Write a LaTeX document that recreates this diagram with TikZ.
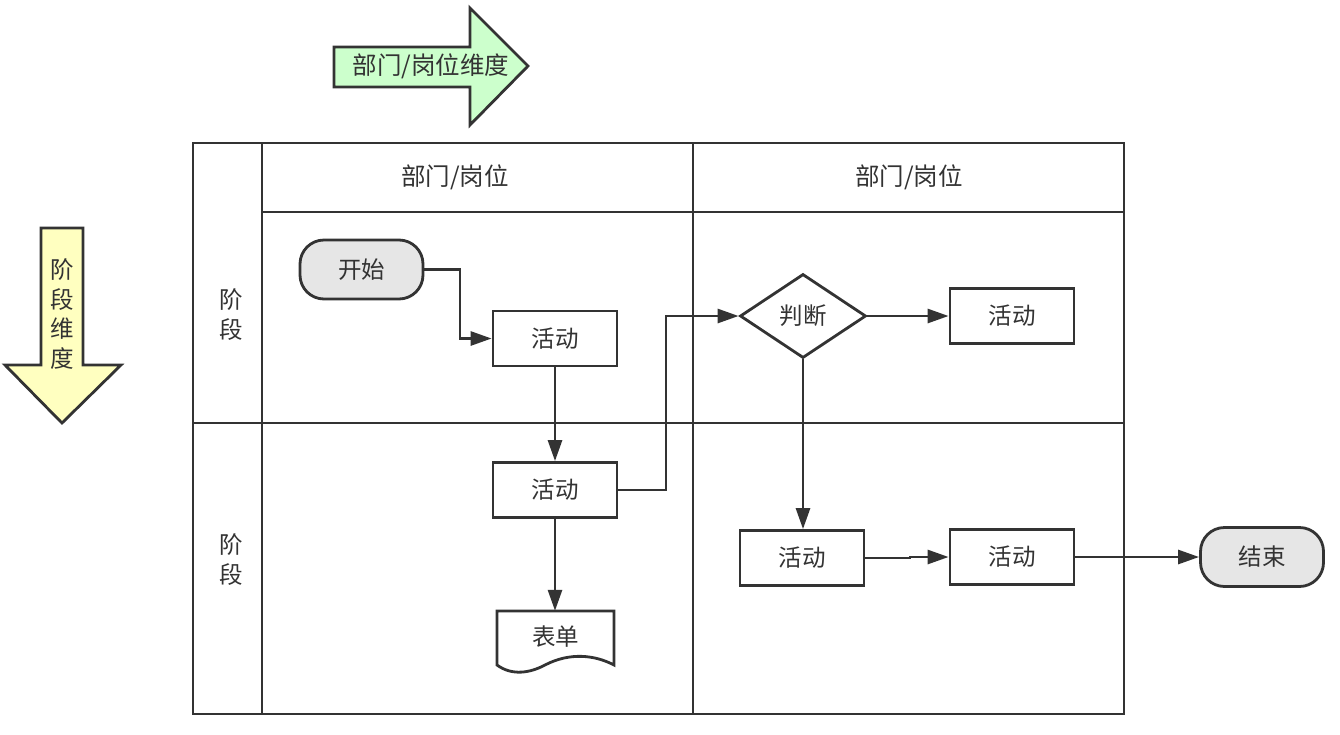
\documentclass[tikz,border=0pt]{standalone}
\usepackage{fontspec}
\setmainfont{Noto Sans CJK SC}
\usetikzlibrary{arrows.meta,shapes.geometric}
\definecolor{ln}{HTML}{333333}
\definecolor{txt}{HTML}{333333}
\definecolor{grn}{HTML}{CCFFCC}
\definecolor{ylw}{HTML}{FFFFC0}
\definecolor{gry}{HTML}{E6E6E6}
\tikzset{
  every node/.style={text=txt,font=\fontsize{23.5}{30}\selectfont},
  hdr/.style={font=\fontsize{24.5}{30}\selectfont},
  frame/.style={draw=ln,line width=2.8pt},
  actbox/.style={draw=ln,line width=2.8pt,fill=white,minimum width=124pt,minimum height=55pt,inner sep=0pt},
  termbox/.style={draw=ln,line width=2.8pt,fill=gry,rounded corners=24pt,minimum width=123pt,minimum height=59pt,inner sep=0pt},
  decbox/.style={draw=ln,line width=2.8pt,fill=white,diamond,aspect=1.5,minimum width=126pt,minimum height=84pt,inner sep=0pt},
  conn/.style={draw=ln,line width=2.8pt,-{Triangle[length=21pt,width=14pt]}},
  bigarrow/.style={draw=ln,line width=2.8pt,line join=miter}
}
\begin{document}
\begin{tikzpicture}[x=1pt,y=-1pt]
\useasboundingbox (0,0) rectangle (1340,734);
\fill[white] (0,0) rectangle (1340,734);
% dimension arrows
\draw[bigarrow,fill=grn] (334,47) -- (470,47) -- (470,8) -- (528,66) -- (470,125) -- (470,87) -- (334,87) -- cycle;
\node[hdr] (dimh) at (431,66) {部门/岗位维度};
\draw[bigarrow,fill=ylw] (41,228) -- (83,228) -- (83,365) -- (121,365) -- (62,423) -- (5,365) -- (41,365) -- cycle;
\node[align=center,font=\fontsize{23.5}{29.5}\selectfont] (dimv) at (62,314) {阶\\段\\维\\度};
% frame
\draw[frame] (193,143) rectangle (1124,714);
\draw[frame] (262,143) -- (262,714);
\draw[frame] (693,143) -- (693,714);
\draw[frame] (262,212) -- (1124,212);
\draw[frame] (193,423) -- (1124,423);
\node[hdr] (h1) at (455,177) {部门/岗位};
\node[hdr] (h2) at (909,177) {部门/岗位};
\node[align=center] (s1) at (231,315) {阶\\段};
\node[align=center] (s2) at (231,560) {阶\\段};
% nodes
\node[termbox] (start) at (361.5,269.5) {开始};
\node[actbox] (a1) at (555,338.5) {活动};
\node[actbox] (a2) at (555,490) {活动};
\node[minimum width=117pt,minimum height=56pt,inner sep=0pt] (doc) at (555,639) {};
\draw[draw=ln,line width=2.8pt,fill=white,line join=miter] (497,665) -- (497,611) -- (614,611) -- (614,665)
   .. controls (595,655) and (570,652) .. (545,665)
   .. controls (530,673) and (512,676) .. (497,665) -- cycle;
\node at (555.5,637) {表单};
\node[decbox] (dec) at (803,316) {判断};
\node[actbox] (a3) at (1012,316) {活动};
\node[actbox] (a4) at (802,558) {活动};
\node[actbox] (a5) at (1012,557) {活动};
\node[termbox] (stop) at (1262,557) {结束};
% connectors
\coordinate (c1) at (460,269.5);
\draw[conn] (start.east) -- (c1) |- (a1.west);
\draw[conn] (a1.south) -- (a2.north);
\coordinate (c2) at (666,490);
\draw[conn] (a2.east) -- (c2) |- (dec.west);
\draw[conn] (dec.east) -- (a3.west);
\draw[conn] (dec.south) -- (dec.south |- a4.north);
\coordinate (c3) at (910,558);
\draw[conn] (a4.east) -- (c3) |- (a5.west);
\draw[conn] (a5.east) -- (stop.west);
\draw[conn] (a2.south) -- (doc.north);
\end{tikzpicture}
\end{document}
